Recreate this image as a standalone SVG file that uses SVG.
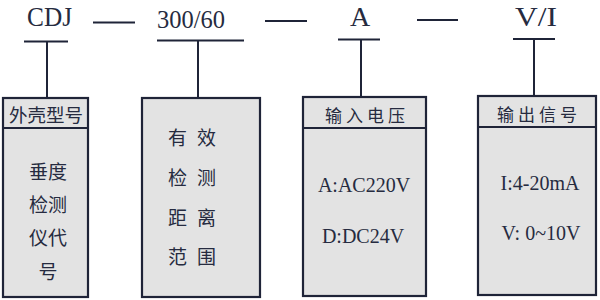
<svg xmlns="http://www.w3.org/2000/svg" width="600" height="300" viewBox="0 0 600 300">
  <style>
    .box { fill: #e3e3e3; stroke: #1f2438; stroke-width: 2.2; }
    .ln { stroke: #1f2438; stroke-width: 2; fill: none; }
    .lat { font-family: "Liberation Serif", "Times New Roman", serif; fill: #262b40; }
    .cjk { font-family: "Noto Sans CJK SC", "Noto Sans CJK JP", sans-serif; fill: #262b40; }
    .top { font-size: 28px; }
    .val { font-size: 20px; }
    .hd { font-size: 17px; }
    .bd { font-size: 19px; }
  </style>
  <rect width="600" height="300" fill="#ffffff"/>

  <g id="connectors">
    <line class="ln" x1="93" y1="22.5" x2="135" y2="22.5"/>
    <line class="ln" x1="265" y1="21" x2="307" y2="21"/>
    <line class="ln" x1="417" y1="20" x2="458" y2="20"/>
    <line class="ln" x1="24" y1="41.5" x2="68" y2="41.5"/>
    <line class="ln" x1="47" y1="41.5" x2="47" y2="98"/>
    <line class="ln" x1="157" y1="40.5" x2="244" y2="40.5"/>
    <line class="ln" x1="198" y1="40.5" x2="198" y2="98"/>
    <line class="ln" x1="338" y1="39.5" x2="380" y2="39.5"/>
    <line class="ln" x1="361" y1="39.5" x2="361" y2="97"/>
    <line class="ln" x1="513" y1="39" x2="555" y2="39"/>
    <line class="ln" x1="534" y1="39" x2="534" y2="96"/>
  </g>

  <g id="label-cdj"><text class="lat top" x="49.5" y="26" text-anchor="middle" textLength="45" lengthAdjust="spacingAndGlyphs">CDJ</text></g>
  <g id="label-300-60"><text class="lat" x="191" y="28" font-size="26" text-anchor="middle" textLength="68" lengthAdjust="spacingAndGlyphs">300/60</text></g>
  <g id="label-a"><text class="lat top" x="360" y="26" text-anchor="middle">A</text></g>
  <g id="label-vi"><text class="lat top" x="536" y="26" text-anchor="middle" textLength="42" lengthAdjust="spacingAndGlyphs">V/I</text></g>

  <g id="node-housing">
    <rect class="box" x="3" y="98" width="85" height="199"/>
    <line class="ln" x1="3" y1="128" x2="88" y2="128" stroke-width="2.2"/>
    <text class="cjk" x="46" y="122" font-size="18.5" text-anchor="middle">外壳型号</text>
    <text class="cjk bd" x="48" y="179" text-anchor="middle">垂度</text>
    <text class="cjk bd" x="48" y="212" text-anchor="middle">检测</text>
    <text class="cjk bd" x="48" y="245" text-anchor="middle">仪代</text>
    <text class="cjk bd" x="48" y="279" text-anchor="middle">号</text>
  </g>

  <g id="node-range">
    <rect class="box" x="142" y="98" width="118" height="199"/>
    <text class="cjk bd" x="197" y="145" text-anchor="middle" letter-spacing="10">有效</text>
    <text class="cjk bd" x="197" y="185" text-anchor="middle" letter-spacing="10">检测</text>
    <text class="cjk bd" x="197" y="225" text-anchor="middle" letter-spacing="10">距离</text>
    <text class="cjk bd" x="197" y="264" text-anchor="middle" letter-spacing="10">范围</text>
  </g>

  <g id="node-input">
    <rect class="box" x="303" y="97" width="123" height="199"/>
    <line class="ln" x1="303" y1="128" x2="426" y2="128" stroke-width="2.2"/>
    <text class="cjk hd" x="367" y="122" text-anchor="middle" letter-spacing="4">输入电压</text>
    <text class="lat val" x="364" y="192" text-anchor="middle">A:AC220V</text>
    <text class="lat val" x="363" y="243" text-anchor="middle">D:DC24V</text>
  </g>

  <g id="node-output">
    <rect class="box" x="478" y="96" width="118" height="199"/>
    <line class="ln" x1="478" y1="127" x2="596" y2="127" stroke-width="2.2"/>
    <text class="cjk hd" x="539" y="121" text-anchor="middle" letter-spacing="4">输出信号</text>
    <text class="lat val" x="540" y="190" text-anchor="middle">I:4-20mA</text>
    <text class="lat val" x="541" y="240" text-anchor="middle">V: 0~10V</text>
  </g>
</svg>
